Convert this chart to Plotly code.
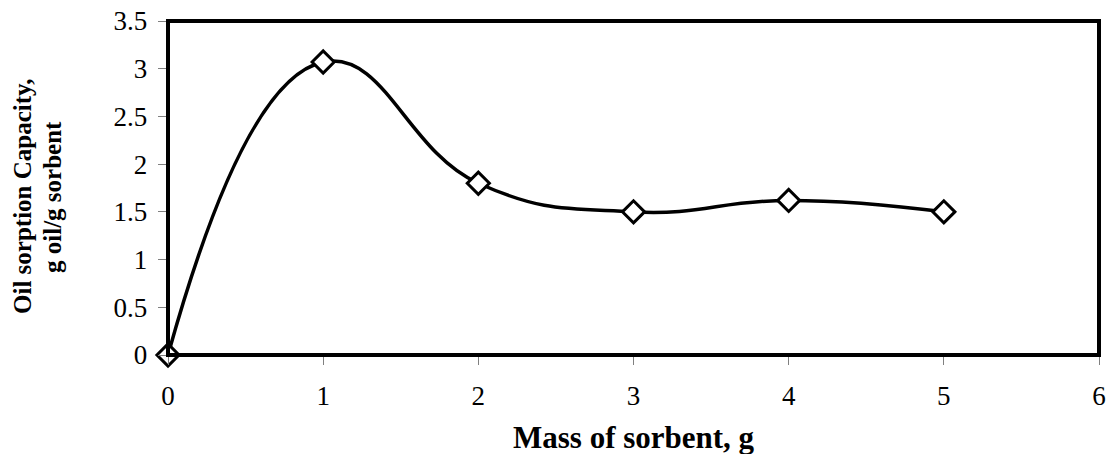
import plotly.graph_objects as go

mass = [0, 1, 2, 3, 4, 5]
capacity = [0, 3.07, 1.8, 1.5, 1.62, 1.5]
x_title = "Mass of sorbent, g"
y_title_lines = ["Oil sorption Capacity,", "g oil/g sorbent"]

fig = go.Figure()
fig.add_trace(go.Scatter(
    x=mass, y=capacity, mode="lines+markers",
    line=dict(color="black", width=3.5, shape="spline", smoothing=1.3),
    marker=dict(symbol="diamond", size=17, color="white", line=dict(color="black", width=3)),
    cliponaxis=False, showlegend=False,
))

font = "Liberation Serif, Times New Roman, serif"
fig.update_layout(
    width=1112, height=454,
    margin=dict(l=168, r=13, t=21, b=99, autoexpand=False),
    paper_bgcolor="white", plot_bgcolor="white",
    font=dict(family=font, color="black"),
    xaxis=dict(range=[0, 6], dtick=1, tickmode="linear", showgrid=False, zeroline=False,
               automargin=False,
               showline=True, linecolor="#808080", linewidth=2,
               ticks="outside", ticklen=8, tickcolor="#808080", tickwidth=1,
               ticklabelstandoff=8,
               tickfont=dict(size=27, family=font)),
    yaxis=dict(range=[0, 3.5], dtick=0.5, tickmode="linear", showgrid=False, zeroline=False,
               automargin=False,
               showline=False,
               ticks="outside", ticklen=9, tickcolor="#808080", tickwidth=1,
               ticksuffix="\u2009",
               tickfont=dict(size=27, family=font)),
)
fig.add_annotation(text="<b>%s</b>" % x_title, xref="paper", yref="paper",
                   x=0.5, y=(355 - 437) / 334, xanchor="center", yanchor="middle",
                   showarrow=False, font=dict(size=31, family=font, color="black"))
for line, px in zip(y_title_lines, [23, 53]):
    fig.add_annotation(text="<b>%s</b>" % line, xref="paper", yref="paper",
                       x=(px - 168) / 931, y=(355 - 197) / 334, xanchor="center", yanchor="middle",
                       textangle=-90, showarrow=False,
                       font=dict(size=25, family=font, color="black"))
fig.add_shape(type="rect", xref="paper", yref="paper", x0=0, x1=1, y0=0, y1=1,
              line=dict(color="black", width=4), layer="above")
fig.write_html("out.html")
